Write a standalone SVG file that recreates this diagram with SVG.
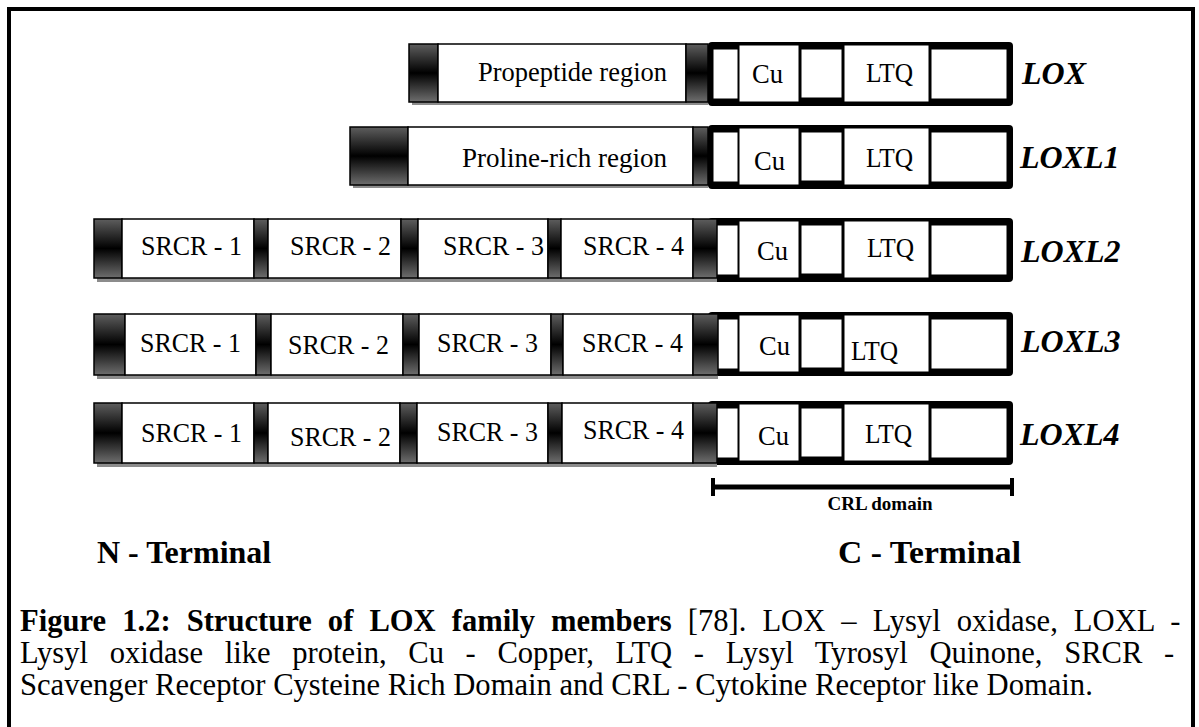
<svg xmlns="http://www.w3.org/2000/svg" xmlns:xlink="http://www.w3.org/1999/xlink" width="1199" height="727" viewBox="0 0 1199 727" font-family="'Liberation Serif', 'Times New Roman', serif">
<defs>
<linearGradient id="capGrad" x1="0" y1="0" x2="0" y2="1">
<stop offset="0" stop-color="#5e5e5e"/>
<stop offset="0.5" stop-color="#000"/>
<stop offset="1" stop-color="#6e6e6e"/>
</linearGradient>
<g id="crlbox">
<rect class="crl" x="708" y="0" width="305" height="64" rx="4"/>
<rect class="cell" x="713" y="7" width="25" height="50"/>
<rect class="cell" x="739" y="3" width="60" height="57"/>
<rect class="cell" x="801" y="7" width="41" height="49"/>
<rect class="cell" x="844" y="3" width="85" height="57"/>
<rect class="cell" x="931" y="7" width="76" height="50"/>
</g>
</defs>
<style>
text{font-family:"Liberation Serif","Times New Roman",serif}
.cap{fill:url(#capGrad);stroke:#000;stroke-width:1.5}
.seg{fill:#fff;stroke:#000;stroke-width:1.5}
.shadow{fill:#8c8c8c}
.crl{fill:#000}
.cell{fill:#fff;stroke:#000;stroke-width:1}
.box-text{font-size:28px;fill:#000}
.lbl{font-size:32px;font-weight:bold;font-style:italic;fill:#000}
.term{font-size:32px;font-weight:bold;fill:#000}
.cap-t{font-size:30.6px;fill:#000}
.crl-t{font-size:19px;font-weight:bold;fill:#000}
</style>
<rect x="9" y="9" width="1184" height="760" fill="#fff" stroke="#000" stroke-width="4"/>

<g id="lox">
<use xlink:href="#crlbox" href="#crlbox" y="42"/>
<rect class="shadow" x="412" y="47" width="296" height="58"/>
<rect class="cap" x="409" y="44" width="29" height="58"/>
<rect class="seg" x="438" y="44" width="248" height="58"/>
<rect class="cap" x="686" y="44" width="22" height="58"/>
<text class="box-text" x="478" y="81" textLength="189" lengthAdjust="spacingAndGlyphs">Propeptide region</text>
<text class="box-text" x="752" y="83" textLength="31" lengthAdjust="spacingAndGlyphs">Cu</text>
<text class="box-text" x="866" y="82" textLength="47" lengthAdjust="spacingAndGlyphs">LTQ</text>
<text class="lbl" x="1022" y="84">LOX</text>
</g>

<g id="loxl1">
<use xlink:href="#crlbox" href="#crlbox" y="125"/>
<rect class="shadow" x="353" y="130" width="355" height="58"/>
<rect class="cap" x="350" y="127" width="58" height="58"/>
<rect class="seg" x="408" y="127" width="285" height="58"/>
<rect class="cap" x="693" y="127" width="15" height="58"/>
<text class="box-text" x="462" y="167" textLength="205" lengthAdjust="spacingAndGlyphs">Proline-rich region</text>
<text class="box-text" x="754" y="170" textLength="31" lengthAdjust="spacingAndGlyphs">Cu</text>
<text class="box-text" x="866" y="167" textLength="47" lengthAdjust="spacingAndGlyphs">LTQ</text>
<text class="lbl" x="1020" y="168">LOXL1</text>
</g>

<g id="loxl2">
<use xlink:href="#crlbox" href="#crlbox" y="218"/>
<rect class="shadow" x="97" y="223" width="620" height="59"/>
<rect class="cap" x="94" y="219" width="28" height="59"/>
<rect class="seg" x="122" y="219" width="132" height="59"/>
<rect class="cap" x="254" y="219" width="14" height="59"/>
<rect class="seg" x="268" y="219" width="133" height="59"/>
<rect class="cap" x="401" y="219" width="17" height="59"/>
<rect class="seg" x="418" y="219" width="130" height="59"/>
<rect class="cap" x="548" y="219" width="13" height="59"/>
<rect class="seg" x="561" y="219" width="132" height="59"/>
<rect class="cap" x="693" y="219" width="24" height="59"/>
<text class="box-text" x="141" y="255" textLength="101" lengthAdjust="spacingAndGlyphs">SRCR - 1</text>
<text class="box-text" x="290" y="255" textLength="101" lengthAdjust="spacingAndGlyphs">SRCR - 2</text>
<text class="box-text" x="443" y="255" textLength="101" lengthAdjust="spacingAndGlyphs">SRCR - 3</text>
<text class="box-text" x="583" y="255" textLength="101" lengthAdjust="spacingAndGlyphs">SRCR - 4</text>
<text class="box-text" x="757" y="260" textLength="31" lengthAdjust="spacingAndGlyphs">Cu</text>
<text class="box-text" x="867" y="257" textLength="47" lengthAdjust="spacingAndGlyphs">LTQ</text>
<text class="lbl" x="1021" y="262">LOXL2</text>
</g>

<g id="loxl3">
<use xlink:href="#crlbox" href="#crlbox" y="312"/>
<rect class="shadow" x="97" y="318" width="621" height="61"/>
<rect class="cap" x="94" y="314" width="31" height="61"/>
<rect class="seg" x="125" y="314" width="131" height="61"/>
<rect class="cap" x="256" y="314" width="15" height="61"/>
<rect class="seg" x="271" y="314" width="132" height="61"/>
<rect class="cap" x="403" y="314" width="16" height="61"/>
<rect class="seg" x="419" y="314" width="132" height="61"/>
<rect class="cap" x="551" y="314" width="12" height="61"/>
<rect class="seg" x="563" y="314" width="130" height="61"/>
<rect class="cap" x="693" y="314" width="25" height="61"/>
<text class="box-text" x="140" y="352" textLength="101" lengthAdjust="spacingAndGlyphs">SRCR - 1</text>
<text class="box-text" x="288" y="354" textLength="101" lengthAdjust="spacingAndGlyphs">SRCR - 2</text>
<text class="box-text" x="437" y="352" textLength="101" lengthAdjust="spacingAndGlyphs">SRCR - 3</text>
<text class="box-text" x="582" y="352" textLength="101" lengthAdjust="spacingAndGlyphs">SRCR - 4</text>
<text class="box-text" x="759" y="355" textLength="31" lengthAdjust="spacingAndGlyphs">Cu</text>
<text class="box-text" x="851" y="360" textLength="47" lengthAdjust="spacingAndGlyphs">LTQ</text>
<text class="lbl" x="1021" y="352">LOXL3</text>
</g>

<g id="loxl4">
<use xlink:href="#crlbox" href="#crlbox" y="401"/>
<rect class="shadow" x="97" y="407" width="620" height="60"/>
<rect class="cap" x="94" y="403" width="28" height="60"/>
<rect class="seg" x="122" y="403" width="132" height="60"/>
<rect class="cap" x="254" y="403" width="14" height="60"/>
<rect class="seg" x="268" y="403" width="132" height="60"/>
<rect class="cap" x="400" y="403" width="17" height="60"/>
<rect class="seg" x="417" y="403" width="131" height="60"/>
<rect class="cap" x="548" y="403" width="14" height="60"/>
<rect class="seg" x="562" y="403" width="131" height="60"/>
<rect class="cap" x="693" y="403" width="24" height="60"/>
<text class="box-text" x="141" y="442" textLength="101" lengthAdjust="spacingAndGlyphs">SRCR - 1</text>
<text class="box-text" x="290" y="446" textLength="101" lengthAdjust="spacingAndGlyphs">SRCR - 2</text>
<text class="box-text" x="437" y="441" textLength="101" lengthAdjust="spacingAndGlyphs">SRCR - 3</text>
<text class="box-text" x="583" y="439" textLength="101" lengthAdjust="spacingAndGlyphs">SRCR - 4</text>
<text class="box-text" x="758" y="445" textLength="31" lengthAdjust="spacingAndGlyphs">Cu</text>
<text class="box-text" x="865" y="443" textLength="47" lengthAdjust="spacingAndGlyphs">LTQ</text>
<text class="lbl" x="1020" y="445">LOXL4</text>
</g>

<g id="connectors">
<g id="crl-domain">
<line x1="713" y1="487" x2="1012" y2="487" stroke="#000" stroke-width="5"/>
<rect x="711" y="478" width="4" height="18" fill="#000"/>
<rect x="1010" y="478" width="4" height="18" fill="#000"/>
<text class="crl-t" x="880" y="510" text-anchor="middle">CRL domain</text>
</g>
</g>

<g id="terminals">
<text class="term" x="97" y="563">N - Terminal</text>
<text class="term" x="838" y="563" textLength="183" lengthAdjust="spacingAndGlyphs">C - Terminal</text>
</g>

<g id="caption">
<text class="cap-t" x="20" y="631" word-spacing="8.4"><tspan font-weight="bold">Figure 1.2: Structure of LOX family members</tspan> [78]. LOX – Lysyl oxidase, LOXL -</text>
<text class="cap-t" x="20" y="663" word-spacing="14">Lysyl oxidase like protein, Cu - Copper, LTQ - Lysyl Tyrosyl Quinone, SRCR -</text>
<text class="cap-t" x="20" y="695">Scavenger Receptor Cysteine Rich Domain and CRL - Cytokine Receptor like Domain.</text>
</g>
</svg>
